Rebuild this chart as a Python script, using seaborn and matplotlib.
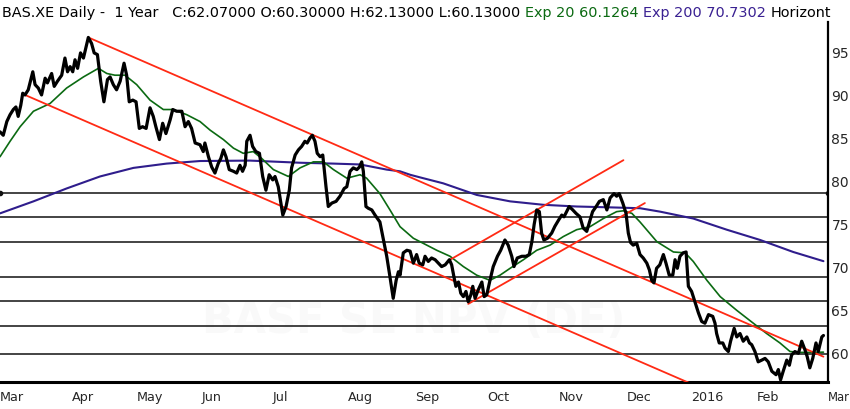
import numpy as np
import pandas as pd
import seaborn as sns
import matplotlib.pyplot as plt

# x = trading-day index (0 = first trading day of Mar 2015)
day = [0, 1.0, 2.1, 3.1, 4.1, 4.9, 5.6, 6.4, 7.0, 7.7,
       8.7, 10.1, 10.8, 11.8, 12.8, 13.9, 14.6, 15.9, 16.7, 17.7,
       19.0, 20.0, 20.8, 21.6, 22.4, 23.1, 23.9, 24.8, 25.7, 27.2,
       28.2, 29.0, 30.0, 31.0, 32.0, 33.1, 33.9, 34.9, 35.9, 37.0,
       38.2, 39.0, 39.8, 40.9, 41.9, 42.9, 43.9, 45.0, 46.2, 47.2,
       48.0, 49.1, 50.1, 51.1, 52.4, 53.2, 54.4, 56.0, 57.0, 58.0,
       59.0, 60.1, 61.6, 62.6, 63.1, 64.2, 65.2, 66.2, 67.2, 68.0,
       68.8, 69.6, 70.6, 71.9, 72.9, 73.9, 74.7, 75.5, 76.0, 77.0,
       77.8, 78.8, 79.9, 80.9, 81.9, 82.9, 84.0, 84.7, 85.7, 87.1,
       88.1, 89.1, 89.8, 90.9, 91.9, 92.9, 93.9, 94.6, 95.5, 96.2,
       97.0, 97.7, 98.6, 99.4, 100.4, 101.1, 102.2, 103.5, 104.7, 106.0,
       106.8, 107.8, 108.8, 109.9, 110.7, 111.4, 111.9, 112.7, 113.4, 114.5,
       115.5, 117.0, 118.1, 119.1, 120.1, 121.1, 122.0, 122.7, 123.2, 124.2,
       125.3, 126.3, 127.3, 128.3, 129.1, 130.2, 130.9, 131.9, 132.9, 134.0,
       135.0, 136.0, 137.1, 138.4, 139.1, 139.8, 140.4, 141.2, 141.9, 142.7,
       143.5, 144.2, 145.0, 145.6, 146.3, 147.3, 148.4, 149.1, 149.9, 150.9,
       151.9, 153.2, 154.2, 155.5, 156.5, 157.6, 158.3, 159.3, 160.7, 162.0,
       163.0, 163.8, 164.5, 165.3, 166.1, 166.8, 167.5, 168.6, 169.9, 170.9,
       172.0, 173.0, 173.7, 174.5, 175.3, 176.4, 177.4, 178.6, 179.6, 180.7,
       181.7, 182.5, 183.6, 184.6, 185.8, 186.9, 187.9, 189.1, 189.9, 190.7,
       191.8, 192.8, 193.5, 194.2, 195.0, 196.1, 197.1, 198.1, 199.2, 200.0,
       200.7, 201.4, 202.2, 203.2, 204.3, 205.1, 206.1, 207.2, 207.9, 208.6,
       209.4, 210.4, 211.3, 212.0, 213.0, 214.0, 215.1, 216.1, 217.1, 218.2,
       219.5, 220.2, 220.7, 221.5, 222.6, 223.3, 224.3, 225.0, 226.1, 226.9,
       227.9, 228.9, 230.0, 230.8, 231.5, 232.5, 233.5, 234.6, 235.6, 236.6,
       237.7, 239.0, 239.7, 240.4, 241.2, 242.3, 243.1, 243.8, 244.8, 245.9,
       246.9, 247.9, 248.6, 249.4, 250.3, 251.3, 252.0, 253.1, 253.6]
close = [85.8, 85.4, 87.0, 87.8, 88.4, 88.7, 87.6, 88.9, 90.3, 90.1,
         90.7, 92.8, 91.3, 90.9, 90.1, 92.05, 91.5, 92.6, 91.1, 91.7,
         92.4, 94.4, 92.8, 93.4, 92.8, 94.2, 93.2, 95.0, 94.4, 96.8,
         96.1, 95.0, 94.8, 91.7, 89.3, 91.9, 92.2, 91.3, 90.7, 91.7,
         93.8, 92.4, 89.3, 89.5, 89.3, 86.2, 86.4, 86.2, 88.6, 87.6,
         86.4, 84.9, 86.8, 85.6, 87.2, 88.4, 88.2, 88.2, 86.4, 87.0,
         86.2, 84.5, 84.3, 83.5, 84.5, 82.9, 81.7, 81.0, 82.1, 82.7,
         83.7, 82.9, 81.4, 81.2, 81.0, 81.9, 81.2, 81.9, 84.7, 85.4,
         84.1, 83.5, 83.3, 80.6, 79.0, 80.8, 80.2, 80.6, 79.4, 76.1,
         77.1, 79.0, 81.6, 83.1, 83.7, 84.1, 84.7, 84.5, 85.1, 85.4,
         84.7, 83.3, 82.9, 83.1, 79.4, 77.1, 77.5, 77.7, 78.3, 79.2,
         79.4, 81.2, 81.6, 81.4, 81.7, 82.3, 81.2, 77.1, 76.9, 76.7,
         76.1, 75.3, 73.2, 71.3, 68.9, 66.4, 68.5, 69.5, 69.1, 71.7,
         72.0, 71.9, 70.5, 71.5, 70.5, 70.3, 71.3, 70.7, 71.1, 70.9,
         70.5, 70.1, 70.3, 70.9, 70.3, 68.9, 67.8, 68.3, 67.0, 66.6,
         67.2, 66.0, 66.8, 67.8, 66.4, 67.4, 68.3, 66.6, 66.8, 68.5,
         70.1, 71.3, 72.0, 73.2, 72.6, 71.3, 70.1, 71.1, 71.3, 71.3,
         71.5, 73.0, 75.0, 76.7, 76.5, 74.0, 73.2, 73.4, 74.0, 74.8,
         75.5, 76.1, 75.9, 76.5, 77.1, 76.7, 76.3, 75.9, 74.6, 74.2,
         75.5, 76.5, 77.1, 77.7, 77.9, 76.7, 78.1, 78.6, 78.3, 78.6,
         77.5, 76.3, 74.0, 72.9, 72.6, 72.8, 71.5, 71.1, 70.5, 69.7,
         68.5, 68.2, 69.9, 70.3, 71.5, 70.5, 69.1, 69.1, 70.9, 69.9,
         71.3, 71.7, 71.8, 67.8, 67.2, 66.0, 64.7, 63.7, 63.5, 64.5,
         64.3, 63.5, 62.3, 61.2, 61.2, 60.6, 60.2, 61.4, 62.9, 61.9,
         62.3, 61.4, 61.9, 61.2, 61.0, 60.2, 59.0, 59.2, 59.4, 59.0,
         57.9, 57.5, 58.1, 56.9, 57.9, 59.2, 58.6, 59.8, 60.2, 60.0,
         61.4, 60.4, 59.6, 58.3, 59.4, 61.2, 60.2, 61.9, 62.07]

ema20_day = [0, 3.1, 6.2, 10.3, 15.4, 20.5, 25.7, 30.3, 32.9, 35.4,
             38.5, 42.1, 46.2, 50.3, 53.4, 57.5, 61.6, 64.7, 68.8, 71.9,
             74.9, 78.0, 80.6, 84.2, 88.8, 92.4, 96.5, 99.6, 102.7, 106.8,
             110.9, 112.9, 117.0, 120.1, 123.2, 127.3, 130.4, 134.5, 138.6, 142.7,
             146.8, 150.9, 154.0, 157.1, 161.2, 165.3, 169.4, 173.5, 177.6, 181.7,
             185.8, 189.9, 192.0, 194.6, 197.1, 202.3, 207.4, 211.0, 213.5, 217.7,
             221.8, 226.9, 232.0, 236.1, 240.2, 243.3, 246.4, 250.5, 253.6]
ema20 = [82.9, 84.7, 86.4, 88.2, 89.1, 90.9, 92.2, 93.2, 92.6, 92.4,
         92.4, 91.3, 89.5, 88.4, 88.4, 87.8, 87.0, 86.0, 84.9, 83.9,
         83.3, 83.5, 82.7, 81.4, 80.6, 81.6, 82.3, 82.3, 81.4, 80.4,
         80.8, 80.4, 78.6, 76.7, 74.75, 73.4, 72.8, 72.0, 71.3, 70.1,
         69.1, 68.5, 69.1, 69.9, 70.9, 72.0, 72.6, 73.6, 74.4, 74.75,
         75.7, 76.5, 76.6, 76.3, 75.3, 73.0, 71.8, 71.7, 70.7, 68.5,
         66.6, 65.0, 63.5, 62.3, 61.2, 60.2, 60.1, 60.1, 60.13]

ema200_day = [0, 10.3, 20.5, 30.8, 41.1, 51.3, 61.6, 77.0, 92.4, 102.7,
              110.9, 119.1, 123.2, 126.3, 129.3, 136.5, 146.8, 157.1, 167.3, 177.6,
              187.9, 197.1, 203.3, 213.5, 223.8, 234.1, 244.3, 253.6]
ema200 = [76.3, 77.7, 79.2, 80.6, 81.6, 82.1, 82.4, 82.45, 82.2, 82.1,
          82.0, 81.4, 81.2, 80.8, 80.5, 79.8, 78.45, 77.7, 77.3, 77.1,
          77.0, 76.9, 76.5, 75.7, 74.4, 73.2, 71.8, 70.73]

horiz_levels = [78.64, 75.85, 72.99, 68.87, 66.05, 63.22, 59.97]

# drawn trend lines: start/end trading day, start/end price
trend_day = [[27.2, 253.6], [7.7, 212.5], [138.6, 192.0], [144.2, 198.6]]
trend_price = [[96.8, 59.6], [90.1, 56.5], [70.9, 82.5], [65.75, 77.5]]

month_pos = [0, 22, 42, 62, 84, 107, 128, 150, 172, 193, 213, 233, 255]
month_lab = ['Mar', 'Apr', 'May', 'Jun', 'Jul', 'Aug', 'Sep', 'Oct', 'Nov',
             'Dec', '2016', 'Feb', 'Mar']
price_ticks = [60, 65, 70, 75, 80, 85, 90, 95]

sns.set_style('white')
plt.rcParams['font.family'] = ['DejaVu Sans']

fig = plt.figure(figsize=(8.5, 4.09), dpi=100)
ax = fig.add_axes([0, 27 / 409, 828 / 850, 360 / 409])

ax.text(0.5, 0.17, 'BASF SE NPV (DE)', transform=ax.transAxes, ha='center',
        va='center', fontsize=30, fontweight='bold', color='#f9f9f9', zorder=0)

for i, lvl in enumerate(horiz_levels):
    if i == 0:
        ax.axhline(lvl, color='#111111', lw=1.1, zorder=1, marker='o', ms=3)
    else:
        ax.axhline(lvl, color='#111111', lw=1.1, zorder=1)

sns.lineplot(x=ema200_day, y=ema200, ax=ax, color='#2f1d8c', lw=1.5,
             estimator=None, zorder=2)
sns.lineplot(x=ema20_day, y=ema20, ax=ax, color='#0b6a12', lw=1.2,
             estimator=None, zorder=3)
for td, tp in zip(trend_day, trend_price):
    sns.lineplot(x=td, y=tp, ax=ax, color='#ff2a14', lw=1.3,
                 estimator=None, zorder=4)
sns.lineplot(x=day, y=close, ax=ax, color='black', lw=2.3,
             estimator=None, zorder=5)

ax.set_xlim(0, 255)
ax.set_ylim(56.65, 98.6)

ax.yaxis.tick_right()
ax.set_yticks(price_ticks)
ax.set_yticklabels([str(v) for v in price_ticks])
ax.tick_params(axis='y', length=0, pad=2.5, labelsize=10)

ax.set_xticks(month_pos)
ax.set_xticklabels(month_lab, ha='left', fontsize=9.2)
ax.tick_params(axis='x', direction='out', length=5, width=1.5, pad=1.5,
               color='black')
# last month label sits at the right edge; keep it inside the picture
ax.get_xticklabels()[-1].set_fontsize(8.4)

for side in ['top', 'left']:
    ax.spines[side].set_visible(False)
ax.spines['bottom'].set_linewidth(2.2)
ax.spines['right'].set_linewidth(1.6)
ax.spines['bottom'].set_color('black')
ax.spines['right'].set_color('black')
ax.set_xlabel('')
ax.set_ylabel('')

parts = ['BAS.XE Daily -  1 Year   C:62.07000 O:60.30000 H:62.13000 L:60.13000 ',
         'Exp 20 60.1264 ', 'Exp 200 70.7302 ', 'Horizont']
part_colors = ['black', '#0b6a12', '#3a2192', 'black']
t = fig.text(0.002, 1 - 13 / 409, parts[0], color=part_colors[0],
             va='center', ha='left', fontsize=10.4)
for txt, col in zip(parts[1:], part_colors[1:]):
    t = ax.annotate(txt, xy=(1, 0), xycoords=t, va='bottom', ha='left',
                    color=col, fontsize=10.4, annotation_clip=False)

fig.savefig('out.png', dpi=100)
